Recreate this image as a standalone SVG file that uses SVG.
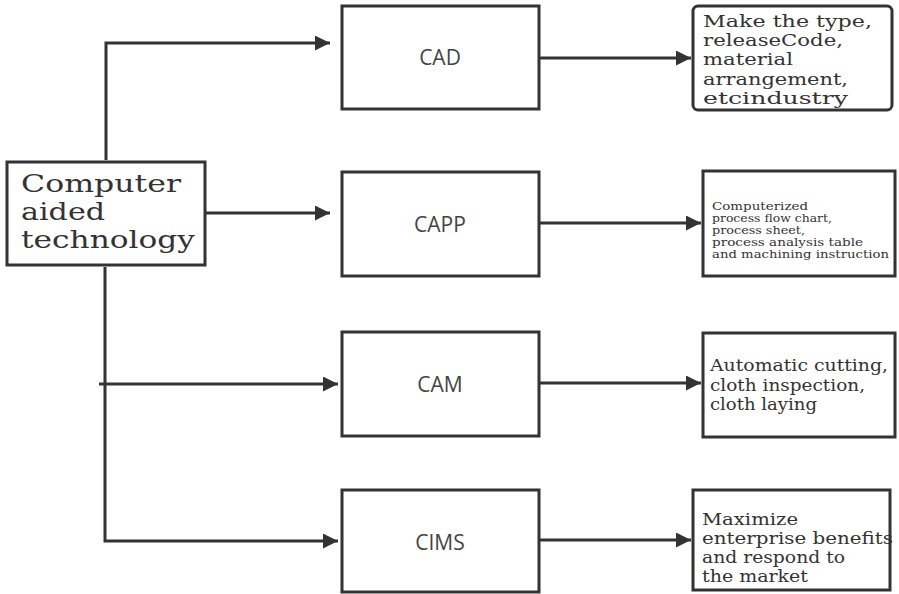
<svg xmlns="http://www.w3.org/2000/svg" width="899" height="594" viewBox="0 0 899 594">
<style>
.box{fill:#fff;stroke:#333;stroke-width:3}
.line{fill:none;stroke:#333;stroke-width:3}
.serif{font-family:"DejaVu Serif","Liberation Serif",serif;fill:#333}
.sans{font-family:"Open Sans","DejaVu Sans",sans-serif;fill:#444;font-size:21px;text-anchor:middle}
</style>
<defs>
<marker id="arr" viewBox="0 0 10 10" refX="10" refY="5" markerWidth="8" markerHeight="5" markerUnits="strokeWidth" orient="auto">
<path d="M0,0 L10,5 L0,10 z" fill="#333"/>
</marker>
</defs>
<rect width="899" height="594" fill="#fff"/>
<g id="connectors">
<path class="line" d="M106,160 V43 H330" marker-end="url(#arr)"/>
<path class="line" d="M206,213 H330" marker-end="url(#arr)"/>
<path class="line" d="M105,267 V541 H338" marker-end="url(#arr)"/>
<path class="line" d="M99,384 H338" marker-end="url(#arr)"/>
<path class="line" d="M539,58 H691" marker-end="url(#arr)"/>
<path class="line" d="M539,223 H701" marker-end="url(#arr)"/>
<path class="line" d="M539,383 H701" marker-end="url(#arr)"/>
<path class="line" d="M539,540 H691" marker-end="url(#arr)"/>
</g>
<g id="main">
<rect class="box" x="7" y="162" width="198" height="103"/>
<text class="serif" font-size="25" lengthAdjust="spacingAndGlyphs"><tspan x="21" y="192" textLength="160" lengthAdjust="spacingAndGlyphs">Computer</tspan><tspan x="21" y="220" textLength="84" lengthAdjust="spacingAndGlyphs">aided</tspan><tspan x="21" y="248" textLength="174" lengthAdjust="spacingAndGlyphs">technology</tspan></text>
</g>
<g id="cad">
<rect class="box" x="342" y="6" width="197" height="103"/>
<text class="sans" x="440" y="65">CAD</text>
</g>
<g id="capp">
<rect class="box" x="342" y="172" width="197" height="104"/>
<text class="sans" x="440" y="232">CAPP</text>
</g>
<g id="cam">
<rect class="box" x="342" y="332" width="197" height="104"/>
<text class="sans" x="440" y="392">CAM</text>
</g>
<g id="cims">
<rect class="box" x="342" y="490" width="197" height="102"/>
<text class="sans" x="440" y="550">CIMS</text>
</g>
<g id="cad-desc">
<rect class="box" x="693" y="6" width="199" height="104" rx="5"/>
<text class="serif" font-size="17"><tspan x="703" y="27" textLength="169" lengthAdjust="spacingAndGlyphs">Make the type,</tspan><tspan x="703" y="46" textLength="140" lengthAdjust="spacingAndGlyphs">releaseCode,</tspan><tspan x="703" y="65" textLength="90" lengthAdjust="spacingAndGlyphs">material</tspan><tspan x="703" y="85" textLength="145" lengthAdjust="spacingAndGlyphs">arrangement,</tspan><tspan x="703" y="104" textLength="145" lengthAdjust="spacingAndGlyphs">etcindustry</tspan></text>
</g>
<g id="capp-desc">
<rect class="box" x="703" y="171" width="192" height="105"/>
<text class="serif" font-size="10.5"><tspan x="712" y="210" textLength="96" lengthAdjust="spacingAndGlyphs">Computerized</tspan><tspan x="712" y="222" textLength="120" lengthAdjust="spacingAndGlyphs">process flow chart,</tspan><tspan x="712" y="234" textLength="93" lengthAdjust="spacingAndGlyphs">process sheet,</tspan><tspan x="712" y="246" textLength="151" lengthAdjust="spacingAndGlyphs">process analysis table</tspan><tspan x="712" y="258" textLength="177" lengthAdjust="spacingAndGlyphs">and machining instruction</tspan></text>
</g>
<g id="cam-desc">
<rect class="box" x="703" y="333" width="192" height="104"/>
<text class="serif" font-size="17"><tspan x="710" y="371" textLength="178" lengthAdjust="spacingAndGlyphs">Automatic cutting,</tspan><tspan x="710" y="391" textLength="155" lengthAdjust="spacingAndGlyphs">cloth inspection,</tspan><tspan x="710" y="410" textLength="107" lengthAdjust="spacingAndGlyphs">cloth laying</tspan></text>
</g>
<g id="cims-desc">
<rect class="box" x="693" y="490" width="197" height="100"/>
<text class="serif" font-size="16.5"><tspan x="702" y="525" textLength="96" lengthAdjust="spacingAndGlyphs">Maximize</tspan><tspan x="702" y="544" textLength="191" lengthAdjust="spacingAndGlyphs">enterprise benefits</tspan><tspan x="702" y="563" textLength="143" lengthAdjust="spacingAndGlyphs">and respond to</tspan><tspan x="702" y="582" textLength="106" lengthAdjust="spacingAndGlyphs">the market</tspan></text>
</g>
</svg>
